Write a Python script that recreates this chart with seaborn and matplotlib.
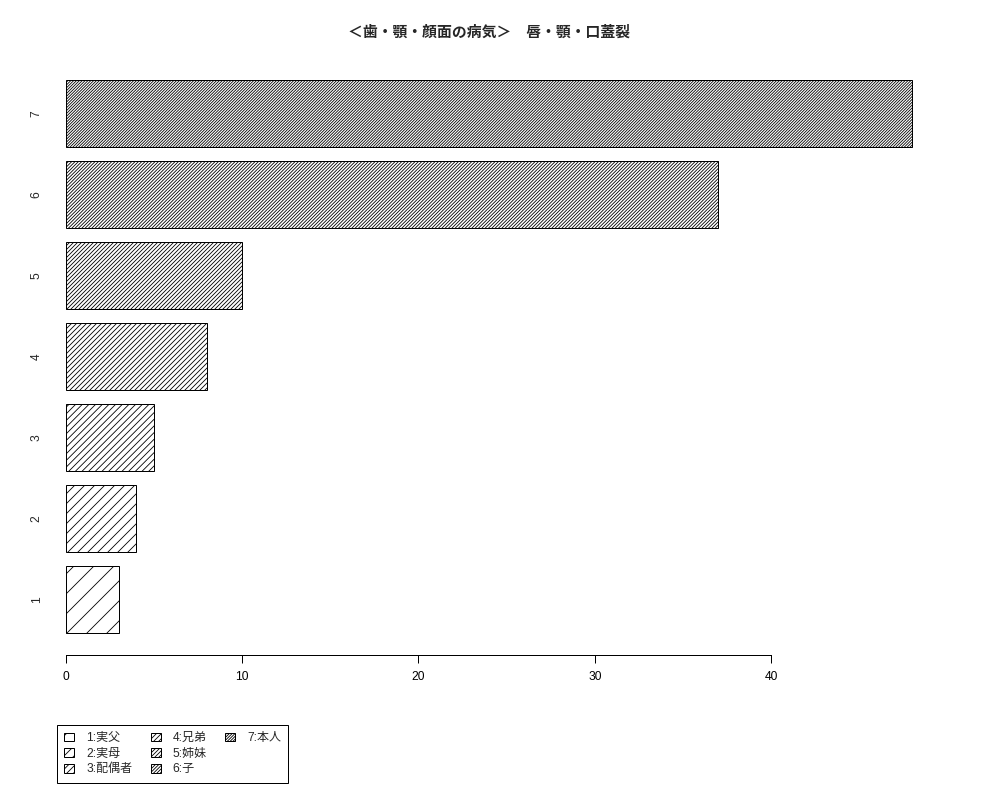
import matplotlib
matplotlib.use("Agg")
import matplotlib.pyplot as plt
from matplotlib.patches import Patch
import seaborn as sns
import pandas as pd

# ---- data ----
categories = ["1", "2", "3", "4", "5", "6", "7"]
values = [3, 4, 5, 8, 10, 37, 48]
legend_labels = ["1:実父", "2:実母", "3:配偶者", "4:兄弟", "5:姉妹", "6:子", "7:本人"]
x_ticks = [0, 10, 20, 30, 40]
title = "＜歯・顎・顔面の病気＞　唇・顎・口蓋裂"

sns.set_style("white")
plt.rcParams["font.family"] = ["Liberation Sans", "Noto Sans CJK JP", "DejaVu Sans"]
plt.rcParams["hatch.linewidth"] = 0.5
plt.rcParams["hatch.color"] = "black"

DPI = 120
fig = plt.figure(figsize=(1000 / DPI, 800 / DPI), dpi=DPI)
ax = fig.add_axes([0.032, 0.18125, 0.914, 0.74625])

df = pd.DataFrame({"cat": categories, "val": values})
order = categories[::-1]
sns.barplot(data=df, x="val", y="cat", order=order, orient="h", color="white",
            saturation=1, edgecolor="black", linewidth=0.6, width=1 / 1.2, ax=ax)

hatches = {c: "/" * (2 * (i + 1)) for i, c in enumerate(categories)}
for p in ax.patches:
    idx = int(round(p.get_y() + p.get_height() / 2))
    p.set_hatch(hatches[order[idx]])
    p.set_facecolor("white")
    p.set_edgecolor("black")

ax.set_xlim(-1.92, 49.92)
ax.set_ylim(6.688, -0.688)
ax.set_xticks(x_ticks)
ax.set_xticklabels([str(t) for t in x_ticks])
ax.set_xlabel("")
ax.set_ylabel("")
for s in ["left", "top", "right"]:
    ax.spines[s].set_visible(False)
ax.spines["bottom"].set_bounds(0, 40)
ax.spines["bottom"].set_linewidth(0.6)
ax.spines["bottom"].set_color("black")
ax.tick_params(axis="x", length=4.6, width=0.6, pad=5.0, labelsize=7.2, bottom=True, colors="black")
ax.tick_params(axis="y", length=0, pad=-6.5, labelsize=7.2, labelrotation=90)
for lab in ax.get_yticklabels():
    lab.set_va("center")
ax.grid(False)

ax.set_title(title, fontsize=8.9, fontweight="bold", pad=13)

handles = [Patch(facecolor="white", edgecolor="black", hatch=hatches[c], linewidth=0.6)
           for c in categories]
handles += [Patch(visible=False), Patch(visible=False)]
labels = legend_labels + ["", ""]
leg = fig.legend(handles, labels, ncol=3, loc="upper left",
                 bbox_to_anchor=(0.057, 1 - 725 / 800), bbox_transform=fig.transFigure,
                 frameon=True, fancybox=False, edgecolor="black", framealpha=1,
                 borderaxespad=0, fontsize=7.2, handlelength=0.85, handleheight=0.75,
                 handletextpad=1.0, labelspacing=0.3, columnspacing=1.5, borderpad=0.6)
leg.get_frame().set_linewidth(0.6)

fig.savefig("out.png", dpi=DPI)
